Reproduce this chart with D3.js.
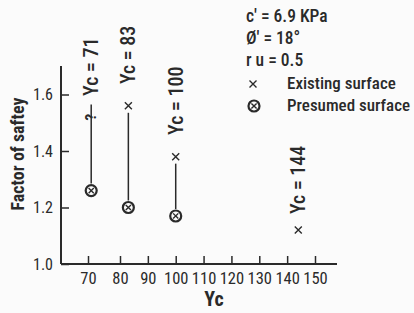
<!DOCTYPE html>
<html lang="en">
<head>
  <meta charset="utf-8">
  <title>Factor of safety vs Yc</title>
  <script src="https://d3js.org/d3.v7.min.js"></script>
  <style>
    body { margin: 0; background: #fbfbfb; }
    svg text { font-family: "Liberation Sans Narrow", "Arial Narrow", "Roboto Condensed", Roboto, sans-serif; fill: #2a2a2a; }
  </style>
</head>
<body>
<svg id="chart"></svg>
<script>

// ---------------------------------------------------------------- //
// Data

var xTicks = [70, 80, 90, 100, 110, 120, 130, 140, 150];
var yTicks = [1.0, 1.2, 1.4, 1.6];

// existing failure surface (x marks)
var existingYc = [83, 100, 144];
var existingFs = [1.56, 1.38, 1.12];

// presumed surface (circled x)
var presumedYc = [71, 83, 100];
var presumedFs = [1.26, 1.20, 1.17];

// uncertain existing surface at Yc = 71
var unknownYc = [71];
var unknownFs = [1.52];
var unknownTop = [1.565];

// rotated labels, placed by where the text starts (bottom end)
var labelText = ['Yc = 71', 'Yc = 83', 'Yc = 100', 'Yc = 144'];
var labelYc = [71, 83, 100, 144];
var labelFs = [1.595, 1.637, 1.457, 1.177];

var legendLines = ['c\u2032 = 6.9 KPa', '\u00d8\u2032 = 18\u00b0', 'r u = 0.5'];

// ---------------------------------------------------------------- //
// Setup

var width = 414, height = 313;
var svg = d3.select('#chart').attr('width', width).attr('height', height);

// axis drawn with 70-80 spaced a bit wider than the rest, as in the original
var x = d3.scaleLinear().domain([70, 80, 150]).range([88, 120, 315]);
var y = d3.scaleLinear().domain([1.0, 1.6]).range([264, 94.5]);

var ink = '#2a2a2a';

// axes lines
svg.append('line').attr('x1', 61).attr('x2', 61).attr('y1', y(1.0)).attr('y2', 66)
  .attr('stroke', ink).attr('stroke-width', 2);
svg.append('line').attr('x1', 61).attr('x2', 337).attr('y1', y(1.0)).attr('y2', y(1.0))
  .attr('stroke', ink).attr('stroke-width', 2);

// x ticks (inward)
var xg = svg.append('g').attr('transform', 'translate(0,' + y(1.0) + ')')
  .call(d3.axisBottom(x).tickValues(xTicks).tickSizeInner(-8).tickSizeOuter(0).tickPadding(20));
xg.select('.domain').remove();
xg.selectAll('line').attr('stroke', ink).attr('stroke-width', 1.5);
xg.selectAll('text').attr('font-size', 16.5).attr('fill', ink).attr('dy', 0);

// y ticks (inward)
var yg = svg.append('g').attr('transform', 'translate(61,0)')
  .call(d3.axisLeft(y).tickValues(yTicks).tickFormat(d3.format('.1f')).tickSizeInner(-8).tickSizeOuter(0).tickPadding(8));
yg.select('.domain').remove();
yg.selectAll('line').attr('stroke', ink).attr('stroke-width', 1.5);
yg.selectAll('text').attr('font-size', 16).attr('fill', ink);

// axis titles
svg.append('text').attr('x', 214).attr('y', 306).attr('text-anchor', 'middle')
  .attr('font-size', 20).attr('font-weight', 'bold').text('Yc');
svg.append('text').attr('transform', 'translate(24,154) rotate(-90)').attr('text-anchor', 'middle')
  .attr('font-size', 18).attr('font-weight', 'bold').text('Factor of saftey');

// ---------------------------------------------------------------- //
// Marks

var stems = svg.append('g').attr('stroke', ink).attr('stroke-width', 1.5);
// 71: from circle up past the question mark
stems.append('line').attr('x1', x(unknownYc[0])).attr('x2', x(unknownYc[0]))
  .attr('y1', y(presumedFs[0]) - 7).attr('y2', y(unknownTop[0]));
// 83 and 100: from x mark down to circle
[0, 1].forEach(function(i){
  stems.append('line').attr('x1', x(existingYc[i])).attr('x2', x(existingYc[i]))
    .attr('y1', y(existingFs[i]) + 7).attr('y2', y(presumedFs[i + 1]) - 7);
});

// question mark
svg.append('text').attr('transform', 'translate(' + (x(unknownYc[0]) + 5) + ',' + y(unknownFs[0]) + ') rotate(-90)')
  .attr('text-anchor', 'middle').attr('font-size', 15).attr('font-weight', 'bold').text('?');

// x marks
function cross(g, cx, cy, r){
  g.append('path').attr('d', 'M' + (cx - r) + ',' + (cy - r) + 'L' + (cx + r) + ',' + (cy + r) +
    'M' + (cx - r) + ',' + (cy + r) + 'L' + (cx + r) + ',' + (cy - r))
    .attr('stroke', ink).attr('stroke-width', 1.4).attr('fill', 'none');
}
existingYc.forEach(function(d, i){ cross(svg, x(d), y(existingFs[i]), 3.5); });

// circled x
function circled(g, cx, cy){
  g.append('circle').attr('cx', cx).attr('cy', cy).attr('r', 5.5)
    .attr('fill', 'none').attr('stroke', ink).attr('stroke-width', 2.2);
  cross(g, cx, cy, 2.6);
}
presumedYc.forEach(function(d, i){ circled(svg, x(d), y(presumedFs[i])); });

// rotated Yc labels
labelText.forEach(function(t, i){
  svg.append('text').attr('transform', 'translate(' + (x(labelYc[i]) + 7) + ',' + y(labelFs[i]) + ') rotate(-90)')
    .attr('font-size', 20).attr('font-weight', 500).text(t);
});

// ---------------------------------------------------------------- //
// Legend

legendLines.forEach(function(t, i){
  svg.append('text').attr('x', 246).attr('y', 22 + i * 22).attr('font-size', 17.5).attr('font-weight', 500).text(t);
});
svg.append('text').attr('x', 287).attr('y', 89).attr('font-size', 17).attr('font-weight', 500).text('Existing surface');
svg.append('text').attr('x', 287).attr('y', 111).attr('font-size', 17).attr('font-weight', 500).text('Presumed  surface');
cross(svg, 253, 84, 3.5);
circled(svg, 254, 106);

</script>
</body>
</html>
